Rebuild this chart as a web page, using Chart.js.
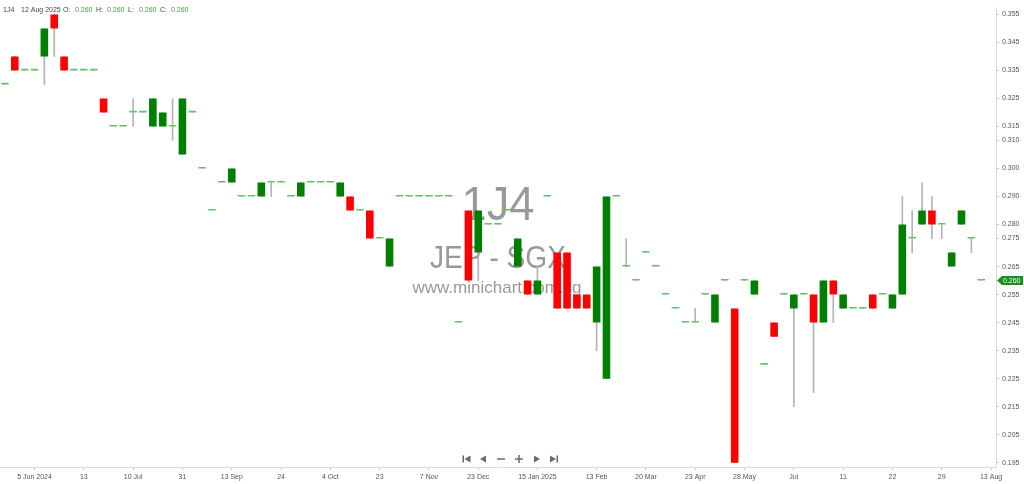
<!DOCTYPE html>
<html>
<head>
<meta charset="utf-8">
<title>1J4 - JEP - SGX</title>
<script src="https://cdn.jsdelivr.net/npm/chart.js@4.4.1/dist/chart.umd.min.js"></script>
<style>
  html, body { margin: 0; padding: 0; background: #fff; }
  #wrap { width: 1024px; height: 484px; position: relative; }
</style>
</head>
<body>
<div id="wrap"><canvas id="chart"></canvas></div>
<script>
//Data (one candle per trading day, oldest first)
const opens = [
  0.330, 0.340, 0.335, 0.335, 0.340, 0.355, 0.340, 0.335, 0.335, 0.335,
  0.325, 0.315, 0.315, 0.320, 0.320, 0.315, 0.315, 0.315, 0.305, 0.320,
  0.300, 0.285, 0.295, 0.295, 0.290, 0.290, 0.290, 0.295, 0.295, 0.290,
  0.290, 0.295, 0.295, 0.295, 0.290, 0.290, 0.285, 0.285, 0.275, 0.265,
  0.290, 0.290, 0.290, 0.290, 0.290, 0.290, 0.245, 0.285, 0.270, 0.280,
  0.280, 0.285, 0.265, 0.260, 0.255, 0.290, 0.270, 0.270, 0.255, 0.255,
  0.245, 0.225, 0.290, 0.265, 0.260, 0.270, 0.265, 0.255, 0.250, 0.245,
  0.245, 0.255, 0.245, 0.260, 0.250, 0.260, 0.255, 0.230, 0.245, 0.255,
  0.250, 0.255, 0.255, 0.245, 0.260, 0.250, 0.250, 0.250, 0.255, 0.255,
  0.250, 0.255, 0.275, 0.280, 0.285, 0.280, 0.265, 0.280, 0.275, 0.260
];
const highs = [
  0.330, 0.340, 0.335, 0.335, 0.350, 0.355, 0.340, 0.335, 0.335, 0.335,
  0.325, 0.315, 0.315, 0.325, 0.320, 0.325, 0.320, 0.325, 0.325, 0.320,
  0.300, 0.285, 0.295, 0.300, 0.290, 0.290, 0.295, 0.295, 0.295, 0.290,
  0.295, 0.295, 0.295, 0.295, 0.295, 0.290, 0.285, 0.285, 0.275, 0.275,
  0.290, 0.290, 0.290, 0.290, 0.290, 0.290, 0.245, 0.285, 0.285, 0.280,
  0.280, 0.285, 0.275, 0.260, 0.265, 0.290, 0.270, 0.270, 0.255, 0.255,
  0.265, 0.290, 0.290, 0.275, 0.260, 0.270, 0.265, 0.255, 0.250, 0.245,
  0.250, 0.255, 0.255, 0.260, 0.250, 0.260, 0.260, 0.230, 0.245, 0.255,
  0.255, 0.255, 0.255, 0.260, 0.260, 0.255, 0.250, 0.250, 0.255, 0.255,
  0.255, 0.290, 0.285, 0.295, 0.290, 0.280, 0.270, 0.285, 0.275, 0.260
];
const lows = [
  0.330, 0.335, 0.335, 0.335, 0.330, 0.340, 0.335, 0.335, 0.335, 0.335,
  0.320, 0.315, 0.315, 0.315, 0.320, 0.315, 0.315, 0.310, 0.305, 0.320,
  0.300, 0.285, 0.295, 0.295, 0.290, 0.290, 0.290, 0.290, 0.295, 0.290,
  0.290, 0.295, 0.295, 0.295, 0.290, 0.285, 0.285, 0.275, 0.275, 0.265,
  0.290, 0.290, 0.290, 0.290, 0.290, 0.290, 0.245, 0.260, 0.260, 0.280,
  0.280, 0.285, 0.265, 0.255, 0.255, 0.290, 0.250, 0.250, 0.250, 0.250,
  0.235, 0.225, 0.290, 0.265, 0.260, 0.270, 0.265, 0.255, 0.250, 0.245,
  0.245, 0.255, 0.245, 0.260, 0.195, 0.260, 0.255, 0.230, 0.240, 0.255,
  0.215, 0.255, 0.220, 0.245, 0.245, 0.250, 0.250, 0.250, 0.250, 0.255,
  0.250, 0.255, 0.270, 0.280, 0.275, 0.275, 0.265, 0.280, 0.270, 0.260
];
const closes = [
  0.330, 0.335, 0.335, 0.335, 0.350, 0.350, 0.335, 0.335, 0.335, 0.335,
  0.320, 0.315, 0.315, 0.320, 0.320, 0.325, 0.320, 0.315, 0.325, 0.320,
  0.300, 0.285, 0.295, 0.300, 0.290, 0.290, 0.295, 0.295, 0.295, 0.290,
  0.295, 0.295, 0.295, 0.295, 0.295, 0.285, 0.285, 0.275, 0.275, 0.275,
  0.290, 0.290, 0.290, 0.290, 0.290, 0.290, 0.245, 0.260, 0.285, 0.280,
  0.280, 0.285, 0.275, 0.255, 0.260, 0.290, 0.250, 0.250, 0.250, 0.250,
  0.265, 0.290, 0.290, 0.265, 0.260, 0.270, 0.265, 0.255, 0.250, 0.245,
  0.245, 0.255, 0.255, 0.260, 0.195, 0.260, 0.260, 0.230, 0.240, 0.255,
  0.255, 0.255, 0.245, 0.260, 0.255, 0.255, 0.250, 0.250, 0.250, 0.255,
  0.255, 0.280, 0.275, 0.285, 0.280, 0.280, 0.270, 0.285, 0.275, 0.260
];

//x axis: which slot carries which date label (slot 100 is the empty one after the last candle)
const slotCount = 101;
const tickSlots = [3, 8, 13, 18, 23, 28, 33, 38, 43, 48, 54, 60, 65, 70, 75, 80, 85, 90, 95, 100];
const tickNames = ["5 Jun 2024", "13", "10 Jul", "31", "13 Sep", "24", "4 Oct", "23", "7 Nov", "23 Dec",
  "15 Jan 2025", "13 Feb", "20 Mar", "23 Apr", "28 May", "Jul", "11", "22", "29", "13 Aug"];

//y axis tick values as the source shows them
const yTicks = [0.355, 0.345, 0.335, 0.325, 0.315, 0.310, 0.300, 0.290, 0.280, 0.275,
  0.265, 0.255, 0.245, 0.235, 0.225, 0.215, 0.205, 0.195];

const symbol = "1J4";
const lastDate = "12 Aug 2025";

const slots = [];
for (let i = 0; i < slotCount; i++) {
  const k = tickSlots.indexOf(i);
  slots.push(k >= 0 ? tickNames[k] : "");
}

const FONT = '"Liberation Sans", Arial, sans-serif';
const last = closes.length - 1;

function bodyColor(ctx) {
  const i = ctx.dataIndex;
  if (closes[i] > opens[i]) return '#008000';
  if (closes[i] < opens[i]) return '#ff0000';
  return '#6cc06c';
}

//watermark behind the candles
const watermark = {
  id: 'watermark',
  beforeDatasetsDraw(chart) {
    const c = chart.ctx;
    const fitText = (text, cx, base, size, width) => {
      c.save();
      c.font = size + 'px ' + FONT;
      const w = c.measureText(text).width;
      c.translate(cx, base);
      c.scale(width / w, 1);
      c.fillText(text, -w / 2, 0);
      c.restore();
    };
    c.save();
    c.fillStyle = 'rgba(128,128,128,0.8)';
    c.textBaseline = 'alphabetic';
    fitText(symbol, 498, 220, 49, 73);
    fitText("JEP - SGX", 498, 268, 31, 136);
    fitText("www.minichart.com.sg", 497, 293, 17, 169);
    c.restore();
  }
};

//header line, nav buttons and price tag
const overlay = {
  id: 'overlay',
  afterDraw(chart) {
    const c = chart.ctx;
    const y = chart.scales.y;
    c.save();
    c.font = '7px ' + FONT;
    c.textBaseline = 'middle';
    c.fillStyle = '#444';
    c.fillText(symbol, 3, 10.5);
    c.fillText(lastDate, 21, 10.5);
    const parts = [["O:", 63, opens[last], 75], ["H:", 96, highs[last], 107],
      ["L:", 128, lows[last], 139], ["C:", 160, closes[last], 171]];
    parts.forEach(p => {
      c.fillStyle = '#444';
      c.fillText(p[0], p[1], 10.5);
      c.fillStyle = '#3aa63a';
      c.fillText(p[2].toFixed(3), p[3], 10.5);
    });

    //navigation buttons
    const ny = 459;
    c.fillStyle = '#6a6a6a';
    c.strokeStyle = '#6a6a6a';
    c.lineWidth = 1.5;
    const tri = (x, dir) => {
      c.beginPath();
      c.moveTo(x - 3 * dir, ny);
      c.lineTo(x + 3 * dir, ny - 3.5);
      c.lineTo(x + 3 * dir, ny + 3.5);
      c.closePath();
      c.fill();
    };
    c.fillRect(462.5, ny - 3.5, 1.5, 7);
    tri(467.5, 1);
    tri(483, 1);
    c.beginPath(); c.moveTo(497, ny); c.lineTo(505, ny); c.stroke();
    c.beginPath(); c.moveTo(515, ny); c.lineTo(523, ny); c.moveTo(519, ny - 4); c.lineTo(519, ny + 4); c.stroke();
    tri(537, -1);
    tri(553, -1);
    c.fillRect(556.5, ny - 3.5, 1.5, 7);

    //last price tag on the y axis
    const py = y.getPixelForValue(closes[last]);
    const x0 = chart.chartArea.right + 1;
    c.fillStyle = '#1b8f1b';
    c.beginPath();
    c.moveTo(x0, py);
    c.lineTo(x0 + 5, py - 4.5);
    c.lineTo(1023, py - 4.5);
    c.lineTo(1023, py + 4.5);
    c.lineTo(x0 + 5, py + 4.5);
    c.closePath();
    c.fill();
    c.fillStyle = '#fff';
    c.font = '7px ' + FONT;
    c.fillText(closes[last].toFixed(3), x0 + 6, py + 0.5);
    c.restore();
  }
};

const chart = new Chart(document.getElementById('chart'), {
  type: 'bar',
  data: {
    labels: slots,
    datasets: [{
      //wicks
      data: lows.map((l, i) => [l, highs[i]]),
      backgroundColor: '#b4b4b4',
      barThickness: 1,
      grouped: false,
      order: 2
    }, {
      //bodies
      data: opens.map((o, i) => [o, closes[i]]),
      backgroundColor: bodyColor,
      borderWidth: 0,
      minBarLength: 1.6,
      barPercentage: 0.77,
      categoryPercentage: 1,
      grouped: false,
      order: 1
    }]
  },
  options: {
    responsive: true,
    maintainAspectRatio: false,
    animation: false,
    layout: { padding: 0 },
    plugins: {
      legend: { display: false },
      tooltip: { enabled: false },
      title: { display: false }
    },
    scales: {
      x: {
        offset: true,
        grid: { display: true, offset: false, drawOnChartArea: false, tickLength: 3, color: '#c8c8c8' },
        border: { display: true, color: '#dcdcdc' },
        ticks: {
          autoSkip: false,
          maxRotation: 0,
          padding: 3,
          color: '#555',
          font: { size: 7, family: FONT }
        },
        afterBuildTicks: scale => {
          scale.ticks = scale.ticks.filter(t => slots[t.value] !== "");
        },
        afterFit: scale => { scale.height = 17; }
      },
      y: {
        position: 'right',
        min: 0.19347,
        max: 0.35757,
        grid: { display: true, drawOnChartArea: false, tickLength: 3, color: '#c8c8c8' },
        border: { display: true, color: '#dcdcdc' },
        ticks: {
          padding: 3,
          color: '#555',
          font: { size: 7, family: FONT },
          callback: v => v.toFixed(3)
        },
        afterBuildTicks: scale => {
          scale.ticks = yTicks.map(v => ({ value: v }));
        },
        afterFit: scale => { scale.width = 28; }
      }
    }
  },
  plugins: [watermark, overlay]
});
</script>
</body>
</html>
